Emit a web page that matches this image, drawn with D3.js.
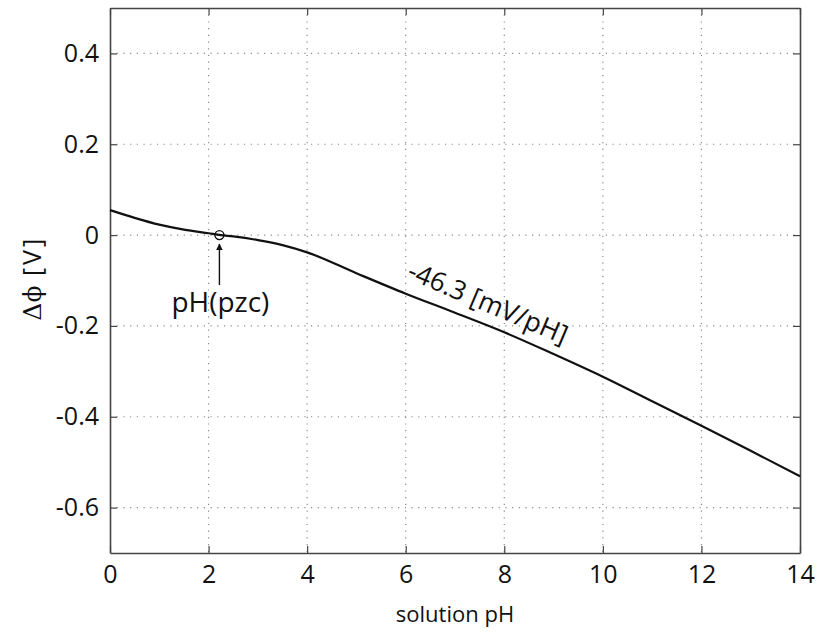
<!DOCTYPE html>
<html>
<head>
<meta charset="utf-8">
<script src="https://cdn.jsdelivr.net/npm/d3@7"></script>
<style>
  body { margin: 0; background: #fff; }
  text { font-family: "Open Sans", sans-serif; fill: #111; }
</style>
</head>
<body>
<div id="chart"></div>
<script>
// data
var pH = [0, 0.5, 1, 1.5, 2, 2.25, 2.5, 3, 3.5, 4, 5, 6, 7, 8, 9, 10, 11, 12, 13, 14];
var dphi = [0.055, 0.038, 0.023, 0.012, 0.004, 0, -0.003, -0.011, -0.022, -0.038, -0.084, -0.129, -0.171, -0.214, -0.262, -0.312, -0.366, -0.42, -0.475, -0.531];
var xTicks = [0, 2, 4, 6, 8, 10, 12, 14];
var yTicks = [-0.6, -0.4, -0.2, 0, 0.2, 0.4];
var pzc = [2.22, 0];
var slopeLabel = "-46.3 [mV/pH]";

var W = 818, H = 632;
var margin = { top: 8, right: 18, bottom: 79, left: 110 },
    width = W - margin.left - margin.right,
    height = H - margin.top - margin.bottom;

var svg = d3.select("#chart").append("svg")
    .attr("width", W).attr("height", H);
var g = svg.append("g")
    .attr("transform", "translate(" + margin.left + "," + margin.top + ")");

var x = d3.scaleLinear().domain([0, 14]).range([0, width]);
var y = d3.scaleLinear().domain([-0.7, 0.5]).range([height, 0]);

// dotted grid
g.selectAll(".gx").data(xTicks.slice(1, -1)).enter().append("line")
    .attr("x1", d => x(d)).attr("x2", d => x(d))
    .attr("y1", 0).attr("y2", height)
    .attr("stroke", "#8a8a8a").attr("stroke-width", 1.2)
    .attr("stroke-dasharray", "1.2,5.5");
g.selectAll(".gy").data(yTicks).enter().append("line")
    .attr("y1", d => y(d)).attr("y2", d => y(d))
    .attr("x1", 0).attr("x2", width)
    .attr("stroke", "#8a8a8a").attr("stroke-width", 1.2)
    .attr("stroke-dasharray", "1.2,5.5");

// axes, ticks pointing inward
var fmt = d => d === 0 ? "0" : d3.format(".1f")(d).replace("−", "-");
var xAxis = g.append("g").attr("transform", "translate(0," + height + ")")
    .call(d3.axisBottom(x).tickValues(xTicks).tickSizeInner(-7).tickSizeOuter(0).tickPadding(17).tickFormat(d3.format("d")));
var xTop = g.append("g")
    .call(d3.axisTop(x).tickValues(xTicks).tickSizeInner(-7).tickSizeOuter(0).tickFormat(""));
var yAxis = g.append("g")
    .call(d3.axisLeft(y).tickValues(yTicks).tickSizeInner(-7).tickSizeOuter(0).tickPadding(11).tickFormat(fmt));
var yRight = g.append("g").attr("transform", "translate(" + width + ",0)")
    .call(d3.axisRight(y).tickValues(yTicks).tickSizeInner(-7).tickSizeOuter(0).tickFormat(""));

[xAxis, xTop, yAxis, yRight].forEach(function (a) {
    a.selectAll(".domain").attr("stroke", "#444").attr("stroke-width", 1.6);
    a.selectAll(".tick line").attr("stroke", "#444").attr("stroke-width", 1.2);
    a.selectAll(".tick text").attr("font-size", "25px").attr("fill", "#111")
        .attr("font-family", "'Open Sans', sans-serif");
});
xAxis.selectAll(".tick text").attr("dy", "0.5em");

// the curve
g.append("path")
    .datum(pH.map((p, i) => [p, dphi[i]]))
    .attr("fill", "none")
    .attr("stroke", "#111")
    .attr("stroke-width", 2.2)
    .attr("d", d3.line().x(d => x(d[0])).y(d => y(d[1])).curve(d3.curveMonotoneX));

// pH(pzc) marker and arrow
g.append("circle")
    .attr("cx", x(pzc[0])).attr("cy", y(pzc[1])).attr("r", 4.5)
    .attr("fill", "none").attr("stroke", "#111").attr("stroke-width", 1.4);
svg.append("defs").append("marker")
    .attr("id", "arr").attr("viewBox", "0 0 10 10")
    .attr("refX", 9).attr("refY", 5)
    .attr("markerWidth", 7).attr("markerHeight", 9)
    .attr("markerUnits", "userSpaceOnUse")
    .attr("orient", "auto")
    .append("path").attr("d", "M0,0 L10,5 L0,10 z").attr("fill", "#111");
g.append("line")
    .attr("x1", x(pzc[0])).attr("x2", x(pzc[0]))
    .attr("y1", y(pzc[1]) + 50).attr("y2", y(pzc[1]) + 9)
    .attr("stroke", "#111").attr("stroke-width", 1.4)
    .attr("marker-end", "url(#arr)");
g.append("text")
    .attr("x", x(pzc[0]) + 1).attr("y", y(pzc[1]) + 77)
    .attr("text-anchor", "middle").attr("font-size", "28px")
    .text("pH(pzc)");

// slope label
g.append("text")
    .attr("transform", "translate(" + x(6) + "," + y(-0.094) + ") rotate(23)")
    .attr("font-size", "26.5px")
    .text(slopeLabel);

// axis titles
svg.append("text")
    .attr("x", margin.left + width / 2).attr("y", 622)
    .attr("text-anchor", "middle").attr("font-size", "22px")
    .text("solution pH");
var yt = svg.append("text")
    .attr("transform", "translate(41," + (margin.top + y(-0.095)) + ") rotate(-90)")
    .attr("text-anchor", "middle").attr("font-size", "25px");
yt.append("tspan").attr("font-family", "'DejaVu Serif', serif").text("Δϕ");
yt.append("tspan").text(" [V]").attr("letter-spacing", "3px");
</script>
</body>
</html>
